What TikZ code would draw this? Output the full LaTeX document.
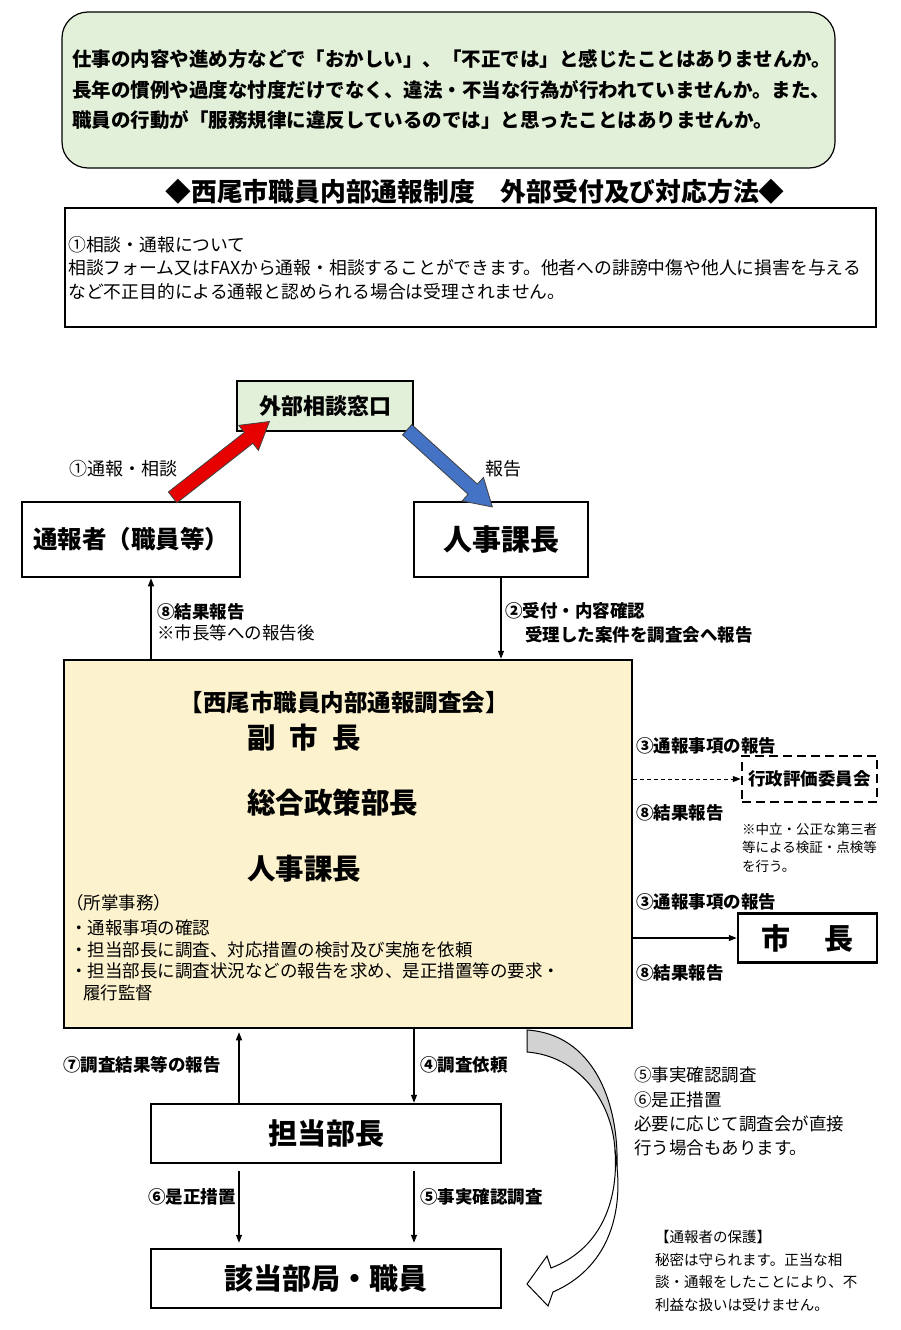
\documentclass[tikz,border=0pt]{standalone}
\usepackage{fontspec}
\setmainfont{Noto Sans CJK JP}
\usetikzlibrary{arrows.meta}
\usetikzlibrary{shapes.arrows}

\definecolor{paleGreen}{RGB}{226,239,217}
\definecolor{paleCream}{RGB}{252,242,206}
\definecolor{arrowRed}{RGB}{230,0,0}
\definecolor{arrowBlue}{RGB}{68,114,196}
\definecolor{bandGray}{RGB}{210,210,210}
\newcommand{\fs}[2]{\fontsize{#1}{#2}\selectfont}

\tikzset{
  box/.style={draw, line width=2.5pt, fill=white, inner sep=0pt},
  lbl/.style={anchor=west, inner sep=0pt, align=left},
  flow/.style={line width=1.3pt, -{Triangle[length=8pt,width=6pt]}},
  blockarrow/.style={sloped, midway, single arrow, draw=black!75, line width=0.8pt,
    inner sep=6.5pt, single arrow head extend=9pt, single arrow tip angle=62},
}

\begin{document}
\begin{tikzpicture}[x=1pt,y=-1pt]
\useasboundingbox (0,0) rectangle (900,1330);

% intro box
\node[draw, line width=1.2pt, fill=paleGreen, rounded corners=26pt, minimum width=773pt, minimum height=156pt] (intro) at (448.5,90) {};
\node[lbl, font=\fs{19.5}{30.5}\bfseries] (introtext) at (72,90) {仕事の内容や進め方などで「おかしい」、「不正では」と感じたことはありませんか。\\長年の慣例や過度な忖度だけでなく、違法・不当な行為が行われていませんか。また、\\職員の行動が「服務規律に違反しているのでは」と思ったことはありませんか。};

\node[inner sep=0pt, font=\fs{25.8}{25.8}\bfseries] (title) at (475,192) {◆西尾市職員内部通報制度　外部受付及び対応方法◆};

% rule box
\node[draw, line width=1.2pt, minimum width=811pt, minimum height=119pt] (rulebox) at (470.5,267.5) {};
\node[lbl, font=\fs{17.8}{23.5}] (ruletext) at (68,268) {①相談・通報について\\相談フォーム又はFAXから通報・相談することができます。他者への誹謗中傷や他人に損害を与える\\など不正目的による通報と認められる場合は受理されません。};

% top of the flow
\node[box, fill=paleGreen, minimum width=176pt, minimum height=50pt, font=\fs{22}{22}\bfseries] (window) at (325,406) {外部相談窓口};
\node[box, minimum width=218pt, minimum height=75pt, font=\fs{24.5}{24.5}\bfseries] (reporter) at (131,539.5) {通報者（職員等）};
\node[box, minimum width=174pt, minimum height=75pt, font=\fs{29}{29}\bfseries] (personnel) at (501,539.5) {人事課長};

\coordinate (redtail) at (168,501);
\coordinate (redtip) at (265,425);
\coordinate (bluetail) at (403,426);
\coordinate (bluetip) at (488,503);
\path (redtail) -- node[blockarrow, fill=arrowRed, minimum height=123pt] (redarrow) {} (redtip);
\path (bluetail) -- node[blockarrow, fill=arrowBlue, minimum height=115pt] (bluearrow) {} (bluetip);
\node[lbl, font=\fs{18}{18}] (consult1) at (69,469) {①通報・相談};
\node[lbl, font=\fs{18}{18}] (report) at (485,469) {報告};

% council
\node[box, fill=paleCream, minimum width=568pt, minimum height=368pt] (council) at (348,844) {};
\node[inner sep=0pt, font=\fs{23.5}{23.5}\bfseries] (councilname) at (344,703) {【西尾市職員内部通報調査会】};
\node[lbl, font=\fs{28.5}{28.5}\bfseries] (vicemayor) at (247,738) {副\hspace{0.5em}市\hspace{0.5em}長};
\node[lbl, font=\fs{28.5}{28.5}\bfseries] (policyhead) at (247,803) {総合政策部長};
\node[lbl, font=\fs{28.5}{28.5}\bfseries] (personnelhead) at (247,869) {人事課長};
\node[lbl, font=\fs{17.5}{17.5}] (duties) at (66,903) {（所掌事務）};
\node[lbl, font=\fs{17.5}{21.7}] (tasks) at (70,960.5) {・通報事項の確認\\・担当部長に調査、対応措置の検討及び実施を依頼\\・担当部長に調査状況などの報告を求め、是正措置等の要求・\\\hspace*{13pt}履行監督};

\coordinate (upcol) at (151,0);
\draw[flow] (council.north -| upcol) -- (reporter.south -| upcol);
\draw[flow] (personnel.south) -- (personnel.south |- council.north);
\node[lbl, font=\fs{17.5}{17.5}\bfseries] (result8top) at (157,612) {⑧結果報告};
\node[lbl, font=\fs{17.5}{17.5}] (result8note) at (157,633) {※市長等への報告後};
\node[lbl, font=\fs{17.5}{17.5}\bfseries] (receive2) at (505,611) {②受付・内容確認};
\node[lbl, font=\fs{17.5}{17.5}\bfseries] (receive2note) at (525,635) {受理した案件を調査会へ報告};

% right side
\node[box, dash pattern=on 9pt off 5pt, minimum width=135pt, minimum height=46pt, font=\fs{17.5}{17.5}\bfseries] (committee) at (809.5,779) {行政評価委員会};
\node[box, minimum width=139pt, minimum height=49pt, font=\fs{29}{29}\bfseries] (mayor) at (807.5,938) {市\hspace{1.2em}長};
\draw[flow, line width=1pt, dash pattern=on 4pt off 3pt] (council.east |- committee.west) -- (committee.west);
\draw[flow] (council.east |- mayor.west) -- (mayor.west);
\node[lbl, font=\fs{17.5}{17.5}\bfseries] (notice3a) at (636,746) {③通報事項の報告};
\node[lbl, font=\fs{17.5}{17.5}\bfseries] (result8a) at (636,813) {⑧結果報告};
\node[lbl, font=\fs{13.5}{18.5}] (thirdparty) at (742,847.5) {※中立・公正な第三者\\等による検証・点検等\\を行う。};
\node[lbl, font=\fs{17.5}{17.5}\bfseries] (notice3b) at (636,902) {③通報事項の報告};
\node[lbl, font=\fs{17.5}{17.5}\bfseries] (result8b) at (636,973) {⑧結果報告};

% lower part
\node[box, minimum width=350pt, minimum height=59pt, font=\fs{29}{29}\bfseries] (manager) at (326,1133.5) {担当部長};
\node[box, minimum width=350pt, minimum height=59pt, font=\fs{29}{29}\bfseries] (division) at (326,1278.5) {該当部局・職員};
\coordinate (leftcol) at (239,0);
\coordinate (rightcol) at (414,0);
\draw[flow, shorten >=3pt] (manager.north -| leftcol) -- (council.south -| leftcol);
\draw[flow] (council.south -| rightcol) -- (manager.north -| rightcol);
\draw[flow, shorten <=7pt, shorten >=5pt] (manager.south -| leftcol) -- (division.north -| leftcol);
\draw[flow, shorten <=7pt, shorten >=5pt] (manager.south -| rightcol) -- (division.north -| rightcol);
\node[anchor=east, inner sep=0pt, font=\fs{17.5}{17.5}\bfseries] (result7) at (221,1065) {⑦調査結果等の報告};
\node[lbl, font=\fs{17.5}{17.5}\bfseries] (request4) at (420,1065) {④調査依頼};
\node[anchor=east, inner sep=0pt, font=\fs{17.5}{17.5}\bfseries] (correct6) at (236,1197) {⑥是正措置};
\node[lbl, font=\fs{17.5}{17.5}\bfseries] (check5) at (420,1197) {⑤事実確認調査};

% curved arrow, drawn as shapes
\draw[line width=1pt, fill=bandGray] (527,1030) .. controls (592,1034) and (619,1100) .. (617,1167) -- (615,1150) .. controls (612,1100) and (578,1056) .. (527,1052) -- cycle;
\draw[line width=1pt, fill=white] (615,1150) .. controls (619,1205) and (598,1250) .. (551,1268) -- (547,1256) -- (527,1284) -- (548,1306) -- (553,1292) .. controls (608,1268) and (622,1215) .. (617,1167) -- cycle;

\node[lbl, font=\fs{17.5}{24.3}] (direct) at (634,1111.5) {⑤事実確認調査\\⑥是正措置\\必要に応じて調査会が直接\\行う場合もあります。};
\node[lbl, font=\fs{14.5}{22.7}] (protect) at (655,1271) {【通報者の保護】\\秘密は守られます。正当な相\\談・通報をしたことにより、不\\利益な扱いは受けません。};
\end{tikzpicture}
\end{document}
